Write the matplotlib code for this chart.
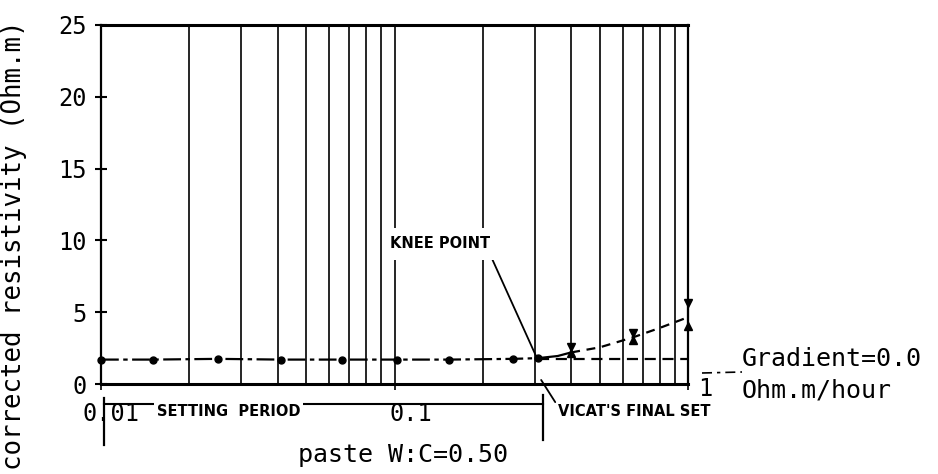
import matplotlib.pyplot as plt
from matplotlib.lines import Line2D
from matplotlib.ticker import NullFormatter
from matplotlib import transforms

# setting period readings (hours, Ohm.m)
t_plateau = [0.01, 0.015, 0.025, 0.041, 0.066, 0.102, 0.153, 0.253, 0.308]
rho_plateau = [1.7, 1.7, 1.75, 1.7, 1.7, 1.7, 1.7, 1.75, 1.8]
# knee and the rise after final set
t_knee = [0.308, 0.36, 0.40]
rho_knee = [1.8, 1.95, 2.2]
t_rise = [0.40, 0.50, 0.65, 0.80, 1.0]
rho_rise = [2.2, 2.55, 3.25, 3.9, 4.65]
# zero-gradient baseline
t_base = [0.308, 1.0]
rho_base = [1.75, 1.75]
# spread of readings after set
t_range = [0.40, 0.65, 1.0]
rho_hi = [2.55, 3.55, 5.65]
rho_lo = [2.15, 3.05, 4.05]

y_ticks = [0, 5, 10, 15, 20, 25]
x_ticks = [0.01, 0.1, 1]
x_ticklabels = ['0.01', '0.1', '1']

plt.rcParams['font.family'] = 'DejaVu Sans Mono'
CAPS = dict(fontsize=10.5, fontweight='bold', family='DejaVu Sans')

W, H = 938, 474
fig = plt.figure(figsize=(W / 100, H / 100), dpi=100)
ax = fig.add_axes([101 / W, 1 - 384 / H, (688 - 101) / W, (384 - 25) / H])

ax.set_xscale('log')
ax.set_xlim(0.01, 1)
ax.set_ylim(0, 25)
ax.grid(which='both', axis='x', color='black', lw=1.2)

for side in ['top', 'bottom']:
    ax.spines[side].set_linewidth(2.2)
for side in ['left', 'right']:
    ax.spines[side].set_linewidth(1.6)

ax.set_yticks(y_ticks)
ax.tick_params(axis='y', direction='inout', length=9, width=1.5, labelsize=17, pad=6)
ax.set_xticks(x_ticks)
ax.set_xticklabels(x_ticklabels)
ax.xaxis.set_minor_formatter(NullFormatter())
ax.tick_params(axis='x', which='minor', length=0)
ax.tick_params(axis='x', which='major', length=4, width=1.2, labelsize=17, pad=9)
# the plotter put the x labels a little off their ticks
offsets = [(0.10, 0.0), (0.16, 0.0), (0.17, 0.25)]
for lbl, (dx, dy) in zip(ax.get_xticklabels(), offsets):
    lbl.set_transform(lbl.get_transform() + transforms.ScaledTranslation(dx, dy, fig.dpi_scale_trans))
    if dy == 0:
        lbl.set_bbox(dict(facecolor='white', edgecolor='none', pad=1))

ax.plot(t_plateau, rho_plateau, color='black', lw=1.6, dashes=(8, 2, 2, 2),
        marker='o', ms=5, clip_on=False, zorder=4)
ax.plot(t_knee, rho_knee, color='black', lw=1.6, zorder=4)
ax.plot(t_rise, rho_rise, color='black', lw=1.6, dashes=(4, 3), zorder=4)
ax.plot(t_base, rho_base, color='black', lw=1.6, dashes=(5, 3), clip_on=False, zorder=4)
ax.plot(t_range, rho_hi, ls='none', marker='v', color='black', ms=6, clip_on=False, zorder=5)
ax.plot(t_range, rho_lo, ls='none', marker='^', color='black', ms=6, clip_on=False, zorder=5)
ax.vlines(t_range, rho_lo, rho_hi, color='black', lw=1.5, clip_on=False, zorder=5)

ax.annotate('KNEE POINT', xy=(0.305, 1.85), xycoords='data',
            xytext=(440, H - 244), textcoords='figure pixels',
            ha='center', va='center', **CAPS,
            bbox=dict(facecolor='white', edgecolor='none', pad=6),
            arrowprops=dict(arrowstyle='-', color='black', lw=1.3,
                            relpos=(0.97, 0.25), shrinkA=0, shrinkB=0))
ax.annotate("VICAT'S FINAL SET", xy=(0.316, 0.28), xycoords='data',
            xytext=(558, H - 411), textcoords='figure pixels',
            ha='left', va='center', **CAPS,
            arrowprops=dict(arrowstyle='-', color='black', lw=1.3,
                            relpos=(0.0, 0.8), shrinkA=0, shrinkB=0))

# bracket under the axis marking the setting period
def fig_line(xs, ys, **kw):
    fig.add_artist(Line2D([x / W for x in xs], [1 - y / H for y in ys],
                          transform=fig.transFigure, color='black', **kw))

fig_line([104, 543], [404, 404], lw=1.5, zorder=1)
fig_line([104, 104], [398, 445], lw=1.6)
fig_line([543, 543], [395, 440], lw=1.6)
fig.text(157 / W, 1 - 411 / H, 'SETTING  PERIOD', ha='left', va='center', **CAPS,
         bbox=dict(facecolor='white', edgecolor='none', pad=2))

fig.text(298 / W, 1 - 455 / H, 'paste W:C=0.50', ha='left', va='center', fontsize=18)
fig.text(742 / W, 1 - 359 / H, 'Gradient=0.0', ha='left', va='center', fontsize=18)
fig.text(742 / W, 1 - 391 / H, 'Ohm.m/hour', ha='left', va='center', fontsize=18)
fig_line([702, 742], [373, 372], lw=1.2, dashes=(6, 3, 2, 3))

fig.text(14 / W, 1 - 245 / H, 'corrected resistivity (Ohm.m)', rotation=90,
         ha='center', va='center', fontsize=18.5)

fig.savefig('out.png', dpi=100)
